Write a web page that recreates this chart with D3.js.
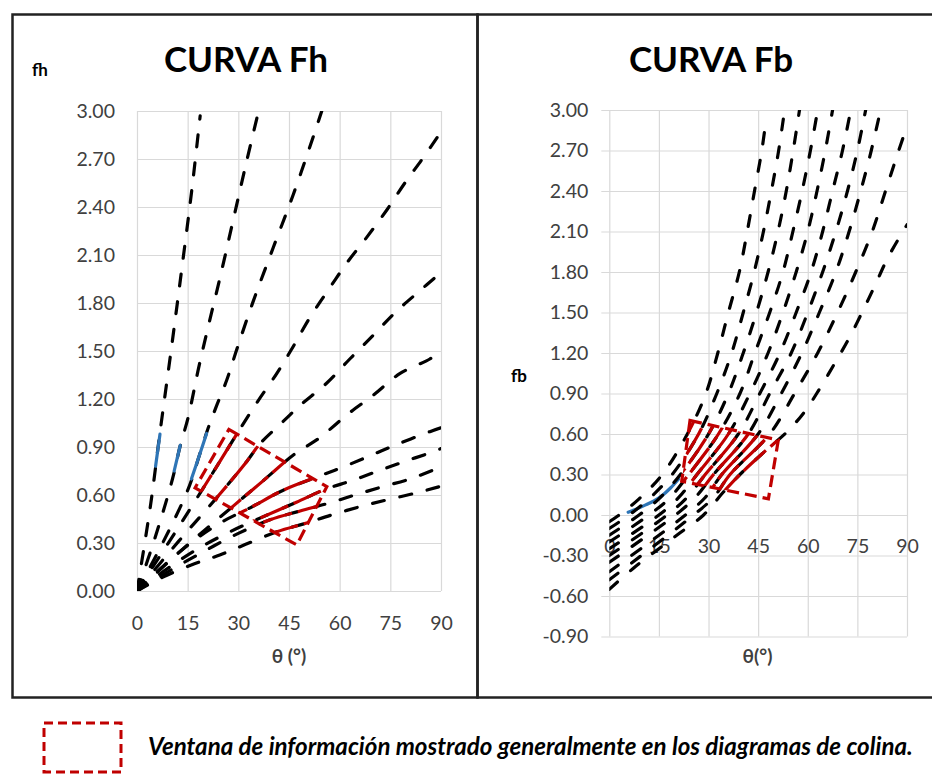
<!DOCTYPE html>
<html>
<head>
<meta charset="utf-8">
<script src="https://cdn.jsdelivr.net/npm/d3@7"></script>
<style>
  body { margin: 0; background: #fff; }
  svg text { font-family: Lato, "Open Sans", sans-serif; }
</style>
</head>
<body>
<svg id="chart" width="932" height="775"></svg>
<script>
// ---------- axis ticks ----------
const thetaTicks = [0, 15, 30, 45, 60, 75, 90];
const fhTicks = [0, 0.3, 0.6, 0.9, 1.2, 1.5, 1.8, 2.1, 2.4, 2.7, 3.0];
const fbTicks = [-0.9, -0.6, -0.3, 0, 0.3, 0.6, 0.9, 1.2, 1.5, 1.8, 2.1, 2.4, 2.7, 3.0];

// ---------- Fh family: [θ (°), fh] ----------
const fh1  = [[0,0],[4.1,0.55],[6.8,0.99],[10.2,1.52],[13.3,2.02],[16.3,2.52],[18.7,2.97]];
const fh2  = [[0,0],[5.3,0.33],[10.5,0.70],[12.7,0.90],[15.2,1.09],[18.1,1.38],[20.6,1.61],[24.6,1.96],[28.5,2.32],[32.5,2.69],[36.0,3.0]];
const fh3  = [[0,0],[7.6,0.30],[15.2,0.64],[18.5,0.85],[21.1,1.02],[23.6,1.16],[26.6,1.32],[29.7,1.52],[34.4,1.81],[40.4,2.15],[46.3,2.48],[52.2,2.84],[54.7,3.0]];
const fh4  = [[0,0],[10.5,0.34],[21.3,0.70],[31.0,1.03],[35.9,1.19],[41.4,1.36],[46.3,1.53],[51.2,1.71],[56.6,1.88],[62.1,2.05],[68.0,2.21],[73.9,2.38],[79.3,2.55],[84.8,2.71],[90,2.87]];
const fh5  = [[0,0],[12.3,0.31],[25.1,0.62],[32.5,0.81],[36.4,0.92],[42.8,1.05],[48.3,1.16],[56.2,1.30],[63.0,1.45],[70.0,1.60],[76.4,1.74],[82.8,1.86],[90,1.99]];
const fh6  = [[0,0],[14.5,0.28],[29.0,0.54],[37.4,0.69],[46.3,0.85],[54.2,0.96],[62.1,1.10],[70.0,1.225],[77.9,1.36],[86.7,1.45],[90,1.50]];
const fh7  = [[0,0],[8,0.16],[16.5,0.31],[25,0.43],[33.5,0.52],[43.3,0.63],[54.2,0.72],[61.6,0.78],[69.5,0.85],[77.4,0.92],[86.7,0.996],[90,1.02]];
const fh8  = [[0,0],[9,0.14],[18.5,0.27],[27.5,0.37],[36.9,0.46],[47.2,0.555],[55.7,0.635],[63.6,0.69],[71.4,0.75],[79.3,0.81],[87.6,0.87],[90,0.89]];
const fh9  = [[0,0],[10,0.13],[20,0.25],[30,0.36],[39.4,0.445],[48.3,0.50],[56.6,0.548],[64.5,0.60],[72.4,0.65],[80.8,0.70],[88.2,0.76],[90,0.775]];
const fh10 = [[0,0],[8,0.09],[17,0.17],[24.5,0.225],[32,0.29],[41.4,0.37],[50.2,0.425],[57.6,0.475],[66,0.527],[73.9,0.569],[82.8,0.614],[90,0.655]];
const fhCurves = [fh1, fh2, fh3, fh4, fh5, fh6, fh7, fh8, fh9, fh10];

// highlighted pieces on the Fh curves
const fhBlue1 = [[5.5,0.78],[6.8,0.98]];
const fhBlue2 = [[11.0,0.75],[12.8,0.91]];
const fhBlue3 = [[16.1,0.70],[18.5,0.85],[20.6,0.985]];
const fhBlue = [fhBlue1, fhBlue2, fhBlue3];

// information window on the Fh plot (corners, θ / fh)
const fhWindow = [[27.2,1.01],[56.2,0.652],[47.3,0.288],[17.2,0.645]];

// ---------- Fb family: [θ (°), fb] ----------
const fb1  = [[0,-0.05],[3,0],[9,0.12],[16,0.3],[23.6,0.6],[29.2,0.9],[32.8,1.2],[36,1.5],[39.3,1.8],[41.7,2.1],[43.9,2.4],[46.1,2.7],[47.5,2.95]];
const fb2  = [[0,-0.10],[6,0],[12,0.12],[19,0.3],[27,0.6],[32.5,0.9],[37,1.2],[40.5,1.5],[43.8,1.8],[46.6,2.1],[49,2.4],[51.2,2.7],[53,3.0]];
const fb3  = [[0,-0.15],[9,0],[15,0.12],[21.5,0.3],[30,0.6],[36,0.9],[40.5,1.2],[44.5,1.5],[48,1.8],[51,2.1],[53.5,2.4],[55.6,2.7],[57.5,3.0]];
const fb4  = [[0,-0.20],[12,0],[18,0.12],[24,0.3],[33,0.6],[39.5,0.9],[44,1.2],[48.5,1.5],[52.5,1.8],[55.5,2.1],[58.3,2.4],[60.8,2.7],[63,3.0]];
const fb5  = [[0,-0.25],[15,0],[21,0.13],[26.5,0.3],[36,0.6],[42.5,0.9],[48,1.2],[52.5,1.5],[56.5,1.8],[60,2.1],[62.8,2.4],[65.3,2.7],[67.5,3.0]];
const fb6  = [[0,-0.30],[17.5,0],[23.5,0.13],[29,0.3],[39,0.6],[45.5,0.9],[51.6,1.2],[56.5,1.5],[61,1.8],[64.5,2.1],[67.5,2.4],[70.5,2.7],[73,3.0]];
const fb7  = [[0,-0.35],[20,0],[26,0.13],[31.5,0.3],[42,0.6],[48.5,0.9],[55,1.2],[60,1.5],[64.5,1.8],[68.5,2.1],[72,2.4],[75,2.7],[77.5,3.0]];
const fb8  = [[0,-0.42],[23,0],[29,0.13],[34,0.3],[45,0.6],[52,0.9],[58.2,1.2],[63.5,1.5],[68.5,1.8],[72.5,2.1],[76,2.4],[79.2,2.7],[82,3.0]];
const fb9  = [[0,-0.48],[25.5,0],[31.5,0.13],[36.5,0.3],[48.5,0.6],[56,0.9],[63,1.2],[69,1.5],[74.5,1.8],[79.5,2.1],[83.5,2.4],[87.5,2.7],[90,2.88]];
const fb10 = [[0,-0.55],[8,-0.38],[15,-0.25],[21.5,-0.13],[28.5,0],[34.5,0.17],[39.5,0.3],[46.5,0.46],[53.9,0.62],[59.2,0.77],[63.7,0.94],[68.3,1.13],[72.5,1.31],[76.6,1.51],[80.3,1.70],[84.3,1.91],[90,2.15]];
const fbCurves = [fb1, fb2, fb3, fb4, fb5, fb6, fb7, fb8, fb9, fb10];

const fbBlue = [[[5.7,0.02],[8.3,0.045],[11,0.075],[13.5,0.105],[16,0.145],[18.5,0.2],[20.9,0.265]]];

// information window on the Fb plot
const fbWindow = [[24.4,0.70],[51.1,0.555],[48.1,0.12],[21.9,0.25]];

// ---------- drawing ----------
const svg = d3.select("#chart");
const RED = "#c00000", BLUE = "#2e75b6", GRID = "#d9d9d9", LABEL = "#404040";
const fmt = d => d.toFixed(2);

// panel frames
svg.append("rect").attr("x", 12.5).attr("y", 14.5).attr("width", 465).attr("height", 683)
  .attr("fill", "none").attr("stroke", "#222").attr("stroke-width", 2.5);
svg.append("rect").attr("x", 477.5).attr("y", 14.5).attr("width", 470).attr("height", 683)
  .attr("fill", "none").attr("stroke", "#222").attr("stroke-width", 2.5);

function drawPanel(p) {
  const g = svg.append("g");
  const [x0, x1] = p.x.range();
  const [yb, yt] = p.y.range();
  const w = x1 - x0, h = yb - yt;

  // vertical grid
  g.append("g").attr("transform", `translate(0,${yb})`)
    .call(d3.axisBottom(p.x).tickValues(thetaTicks).tickSizeInner(-h).tickSizeOuter(0).tickFormat(""))
    .call(a => a.select(".domain").remove())
    .call(a => a.selectAll("line").attr("stroke", GRID).attr("stroke-width", 1.2));

  // horizontal grid + value labels
  g.append("g").attr("transform", `translate(${x0},0)`)
    .call(d3.axisLeft(p.y).tickValues(p.yTicks).tickFormat(fmt).tickSizeInner(-w).tickSizeOuter(0).tickPadding(p.yPad))
    .call(a => a.select(".domain").remove())
    .call(a => a.selectAll("line").attr("stroke", GRID).attr("stroke-width", 1.2).attr("x1", -p.yOut))
    .call(a => a.attr("font-family", null).attr("font-size", 19.5))
    .call(a => a.selectAll("text").attr("fill", LABEL));

  // θ labels on the f = 0 line
  g.append("g").attr("transform", `translate(0,${p.y(0)})`)
    .call(d3.axisBottom(p.x).tickValues(thetaTicks).tickSize(0).tickPadding(p.xPad))
    .call(a => a.select(".domain").remove())
    .call(a => a.attr("font-family", null).attr("font-size", 19.5))
    .call(a => a.selectAll("text").attr("fill", LABEL));

  // titles
  g.append("text").attr("x", p.titleX).attr("y", 72).attr("text-anchor", "middle")
    .attr("font-size", 35).attr("font-weight", 700).attr("fill", "#000").text(p.title);
  g.append("text").attr("x", p.yLabelX).attr("y", p.yLabelY)
    .attr("font-size", 17).attr("font-weight", 700).attr("fill", "#000").text(p.yLabel);
  g.append("text").attr("x", p.xLabelX).attr("y", 663).attr("text-anchor", "middle")
    .attr("font-size", 19).attr("font-weight", 700).attr("fill", LABEL).text(p.xLabel);

  const id = p.id;
  const defs = svg.append("defs");
  defs.append("clipPath").attr("id", id + "-plot")
    .append("rect").attr("x", x0).attr("y", yt).attr("width", w).attr("height", h);
  const boxLine = d3.line().x(d => p.x(d[0])).y(d => p.y(d[1])).curve(d3.curveLinearClosed);
  defs.append("clipPath").attr("id", id + "-win")
    .append("path").attr("d", boxLine(p.window));

  const line = d3.line().x(d => p.x(d[0])).y(d => p.y(d[1])).curve(d3.curveCatmullRom.alpha(0.5));
  const plot = g.append("g").attr("clip-path", `url(#${id}-plot)`);

  const drawBlue = () => plot.append("g").selectAll("path").data(p.blue).join("path")
    .attr("d", line).attr("fill", "none").attr("stroke", BLUE).attr("stroke-width", 3.2)
    .attr("stroke-linecap", "round");

  if (!p.blueOnTop) drawBlue();

  plot.append("g").selectAll("path").data(p.curves).join("path")
    .attr("d", line).attr("fill", "none").attr("stroke", "#000").attr("stroke-width", 3.2)
    .attr("stroke-linecap", "round").attr("stroke-dasharray", p.dash);

  // portions inside the information window
  plot.append("g").attr("clip-path", `url(#${id}-win)`)
    .selectAll("path").data(p.curves).join("path")
    .attr("d", line).attr("fill", "none").attr("stroke", RED).attr("stroke-width", 3.2)
    .attr("stroke-dasharray", "30,6");

  if (p.blueOnTop) drawBlue();

  plot.append("path").attr("d", boxLine(p.window)).attr("fill", "none")
    .attr("stroke", RED).attr("stroke-width", 3.2).attr("stroke-dasharray", "12,6");
}

drawPanel({
  id: "fh",
  x: d3.scaleLinear([0, 90], [137, 441]),
  y: d3.scaleLinear([0, 3], [591, 111]),
  yTicks: fhTicks, yPad: 22, yOut: 0, xPad: 25,
  title: "CURVA Fh", titleX: 246,
  yLabel: "fh", yLabelX: 32, yLabelY: 76,
  xLabel: "θ (°)", xLabelX: 289,
  curves: fhCurves, blue: fhBlue, blueOnTop: true,
  window: fhWindow, dash: "12,16"
});

drawPanel({
  id: "fb",
  x: d3.scaleLinear([0, 90], [609.3, 907]),
  y: d3.scaleLinear([-0.9, 3], [636.5, 110]),
  yTicks: fbTicks, yPad: 21, yOut: 8, xPad: 24,
  title: "CURVA Fb", titleX: 711,
  yLabel: "fb", yLabelX: 511, yLabelY: 382,
  xLabel: "θ(°)", xLabelX: 757.5,
  curves: fbCurves, blue: fbBlue, blueOnTop: false,
  window: fbWindow, dash: "11,17"
});

// legend
svg.append("rect").attr("x", 44).attr("y", 723).attr("width", 77).attr("height", 49)
  .attr("fill", "none").attr("stroke", RED).attr("stroke-width", 3).attr("stroke-dasharray", "9,5");
const legendText = svg.append("text").attr("x", 148).attr("y", 755)
  .attr("font-size", 19).attr("font-weight", 700).attr("font-style", "italic").attr("fill", "#000")
  .text("Ventana de información mostrado generalmente en los diagramas de colina.");
const tl = legendText.node().getComputedTextLength();
legendText.attr("font-size", 19 * 765 / tl);
</script>
</body>
</html>
